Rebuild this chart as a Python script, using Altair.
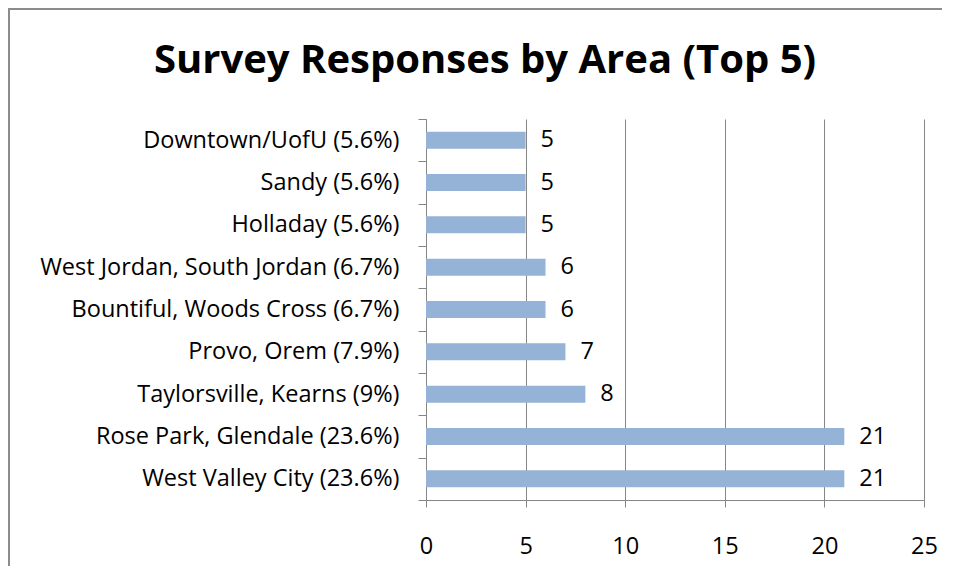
import altair as alt
import pandas as pd

areas = [
    "Downtown/UofU (5.6%)",
    "Sandy (5.6%)",
    "Holladay (5.6%)",
    "West Jordan, South Jordan (6.7%)",
    "Bountiful, Woods Cross (6.7%)",
    "Provo, Orem (7.9%)",
    "Taylorsville, Kearns (9%)",
    "Rose Park, Glendale (23.6%)",
    "West Valley City (23.6%)",
]
responses = [5, 5, 5, 6, 6, 7, 8, 21, 21]
x_ticks = [0, 5, 10, 15, 20, 25]
title_text = "Survey Responses by Area (Top 5)"

df = pd.DataFrame({"area": areas, "n": responses})

FONT = "Open Sans"
GRAY = "#868686"
W, H = 498, 381
FS = 23.5

y_enc = alt.Y(
    "area:N",
    sort=areas,
    scale=alt.Scale(paddingInner=0, paddingOuter=0),
    axis=alt.Axis(
        title=None, tickBand="extent", grid=False, domainColor=GRAY, tickColor=GRAY,
        tickSize=8, labelPadding=19, labelFontSize=FS, labelFont=FONT,
        labelColor="#000000", labelLimit=420,
    ),
)
x_enc = alt.X(
    "n:Q",
    scale=alt.Scale(domain=[0, 25], nice=False),
    axis=alt.Axis(
        title=None, values=x_ticks, grid=True, gridColor=GRAY, domainColor=GRAY,
        tickColor=GRAY, tickSize=7, labelPadding=27, labelFontSize=FS,
        labelFont=FONT, labelColor="#000000", labelFlush=False, labelOverlap=False,
    ),
)

frame = alt.Chart(pd.DataFrame({"a": [0]})).mark_rect(
    fill=None, stroke="#8c8c8c", strokeWidth=2
).encode(
    x=alt.value(-417), x2=alt.value(W + 60), y=alt.value(-110), y2=alt.value(H + 100)
)

bars = alt.Chart(df).mark_bar(size=17, color="#95B3D7").encode(x=x_enc, y=y_enc)
labels = alt.Chart(df).mark_text(
    align="left", baseline="middle", dx=15, fontSize=FS, font=FONT, color="#000000"
).encode(x="n:Q", y=alt.Y("area:N", sort=areas), text="n:Q")

title = alt.Chart(pd.DataFrame({"t": [title_text]})).mark_text(
    align="center", baseline="alphabetic", fontSize=40, fontWeight="bold", font=FONT,
    color="#000000",
).encode(x=alt.value(59), y=alt.value(-46), text="t:N")

chart = alt.layer(frame, bars, labels, title).properties(
    width=W, height=H,
    autosize=alt.AutoSizeParams(type="none"),
    padding={"left": 418, "top": 111, "right": 18, "bottom": 66},
).configure(background="white", view=alt.ViewConfig(stroke=None))

chart.save("out.html", embed_options={"renderer": "svg", "actions": False})
